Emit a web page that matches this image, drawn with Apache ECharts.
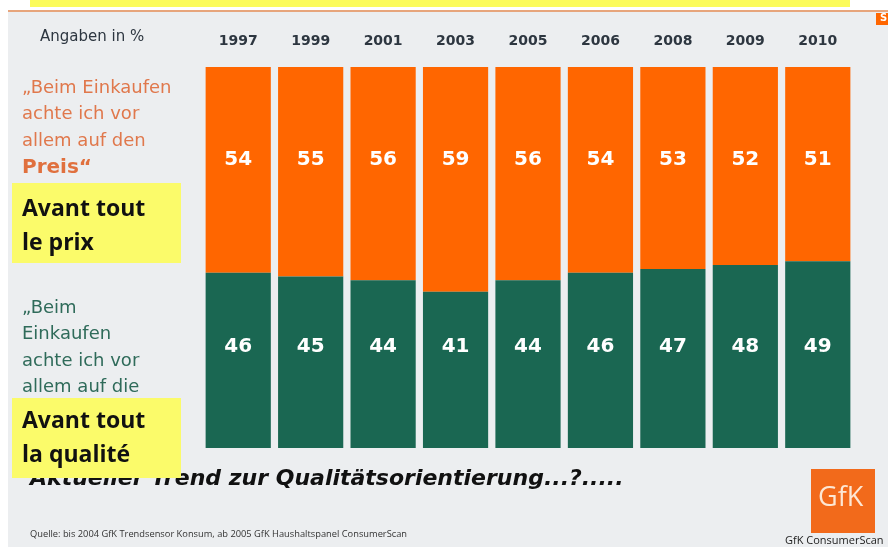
<!DOCTYPE html>
<html>
<head>
<meta charset="utf-8">
<script src="https://cdn.jsdelivr.net/npm/echarts@6/dist/echarts.min.js"></script>
<style>
html, body { margin: 0; padding: 0; background: #fff; }
#main { width: 888px; height: 547px; }
</style>
</head>
<body>
<div id="main"></div>
<script>
// Daten
var years = ['1997', '1999', '2001', '2003', '2005', '2006', '2008', '2009', '2010'];
var preis = [54, 55, 56, 59, 56, 54, 53, 52, 51];
var qualitaet = [46, 45, 44, 41, 44, 46, 47, 48, 49];

var cOrange = '#ff6600';
var cGreen = '#1a6752';
var bg = '#eceef0';

var chart = echarts.init(document.getElementById('main'));

var labelFont = {
	show: true,
	color: '#fff',
	fontFamily: 'DejaVu Sans',
	fontWeight: 'bold',
	fontSize: 20,
	formatter: '{c}'
};

var option = {
	backgroundColor: '#fff',
	animation: false,
	grid: { left: 202, right: 34, top: 67, bottom: 99 },
	xAxis: {
		type: 'category',
		position: 'top',
		data: years,
		axisLine: { show: false },
		axisTick: { show: false },
		axisLabel: {
			margin: 19,
			color: '#2d3640',
			fontFamily: 'DejaVu Sans',
			fontWeight: 'bold',
			fontSize: 14
		}
	},
	yAxis: {
		type: 'value',
		min: 0,
		max: 100,
		inverse: true,
		show: false
	},
	series: [
		{
			name: 'Preis',
			type: 'bar',
			stack: 'all',
			barCategoryGap: '10%',
			itemStyle: { color: cOrange },
			label: Object.assign({}, labelFont, { position: 'insideTop', distance: 83 }),
			data: preis,
			z: 3
		},
		{
			name: 'Qualität',
			type: 'bar',
			stack: 'all',
			itemStyle: { color: cGreen },
			label: Object.assign({}, labelFont, { position: 'insideBottom', distance: 91 }),
			data: qualitaet,
			z: 3
		}
	],
	graphic: [
		// Hintergrund
		{ type: 'rect', z: -10, shape: { x: 8, y: 11, width: 880, height: 536 }, style: { fill: bg } },
		{ type: 'rect', z: -9, shape: { x: 30, y: 0, width: 820, height: 7 }, style: { fill: '#fbfb5a' } },
		{ type: 'rect', z: -9, shape: { x: 8, y: 10, width: 880, height: 2 }, style: { fill: '#e7a57c' } },
		{ type: 'rect', z: -9, shape: { x: 876, y: 13, width: 12, height: 12 }, style: { fill: cOrange } },
		{ type: 'text', z: 5, left: 880, top: 13, style: { text: 'S', fill: '#fff', font: 'bold 10px "DejaVu Sans"' } },

		{ type: 'text', z: 5, left: 40, top: 30, style: { text: 'Angaben in %', fill: '#2d3640', font: '15px "DejaVu Sans"' } },

		// Preis-Text
		{ type: 'text', z: 5, left: 22, top: 75, style: { text: '„Beim Einkaufen\nachte ich vor\nallem auf den', fill: '#e0784c', font: '18px "DejaVu Sans"', lineHeight: 26.5 } },
		{ type: 'text', z: 5, left: 22, top: 158, style: { text: 'Preis“', fill: '#e0703e', font: 'bold 20px "DejaVu Sans"' } },
		{ type: 'rect', z: 6, shape: { x: 12, y: 183, width: 169, height: 80 }, style: { fill: '#fbfb6a' } },
		{ type: 'text', z: 7, left: 22, top: 192, style: { text: 'Avant tout\nle prix', fill: '#111', font: 'bold 23px "Open Sans"', lineHeight: 34 } },

		// Qualität-Text
		{ type: 'text', z: 5, left: 22, top: 295, style: { text: '„Beim\nEinkaufen\nachte ich vor\nallem auf die', fill: '#2f6b5a', font: '18px "DejaVu Sans"', lineHeight: 26.5 } },
		{ type: 'text', z: 5, left: 30, top: 468, style: { text: 'Aktueller Trend zur Qualitätsorientierung...?.....', fill: '#111', font: 'italic bold 22px "DejaVu Sans"' } },
		{ type: 'rect', z: 6, shape: { x: 12, y: 398, width: 169, height: 80 }, style: { fill: '#fbfb6a' } },
		{ type: 'text', z: 7, left: 22, top: 404, style: { text: 'Avant tout\nla qualité', fill: '#111', font: 'bold 23px "Open Sans"', lineHeight: 34 } },

		// Quelle
		{ type: 'text', z: 5, left: 30, top: 530, style: { text: 'Quelle: bis 2004 GfK Trendsensor Konsum, ab 2005 GfK Haushaltspanel ConsumerScan', fill: '#333', font: '9.3px "Open Sans"' } },

		// Logo
		{ type: 'rect', z: 5, shape: { x: 811, y: 469, width: 64, height: 64 }, style: { fill: '#f26a1b' } },
		{ type: 'text', z: 6, left: 818, top: 485, style: { text: 'GfK', fill: '#fde7d4', font: '27px "Open Sans"' } },
		{ type: 'text', z: 5, left: 785, top: 535, style: { text: 'GfK ConsumerScan', fill: '#222', font: '11px "Open Sans"' } }
	]
};

chart.setOption(option);
</script>
</body>
</html>
